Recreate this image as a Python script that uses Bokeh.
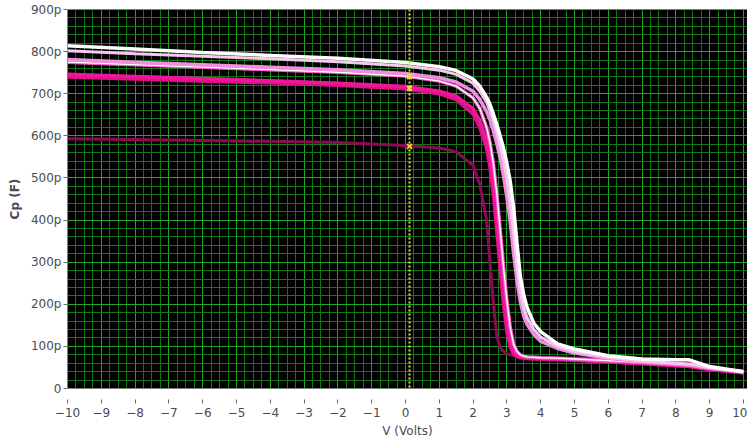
from bokeh.plotting import figure
from bokeh.models import Range1d, Span, SingleIntervalTicker
from bokeh.embed import file_html
from bokeh.resources import INLINE

# Bias voltage (V)
V = [-10, -8, -6, -4, -2, 0, 1, 1.5, 2, 2.2, 2.4, 2.5, 2.6, 2.7, 2.8, 2.9, 3,
     3.1, 3.2, 3.3, 3.4, 3.5, 3.6, 3.8, 4, 4.5, 5, 6, 7, 8, 8.4, 9, 10]

# Capacitance curves (pF)
W1 = [814, 806, 798, 791, 784, 774, 764, 755, 735, 718, 692, 675, 652, 628, 600, 572, 535,
      492, 430, 345, 265, 222, 192, 155, 135, 106, 94, 78, 70, 68, 68, 52, 40]
W2 = [802, 795, 789, 783, 776, 766, 756, 746, 725, 706, 680, 660, 636, 608, 576, 540, 498,
      440, 370, 290, 230, 192, 168, 140, 122, 100, 88, 74, 65, 60, 58, 50, 40]
P1 = [781, 775, 769, 763, 757, 748, 738, 728, 706, 686, 658, 638, 612, 582, 548, 505, 455,
      395, 320, 255, 205, 172, 152, 128, 112, 95, 84, 72, 64, 58, 56, 48, 40]
P2 = [775, 769, 763, 757, 751, 742, 730, 718, 690, 665, 620, 585, 535, 465, 380, 290, 210,
      145, 105, 88, 80, 77, 75, 74, 73, 72, 70, 66, 62, 57, 55, 48, 40]
H1 = [746, 741, 736, 731, 725, 717, 706, 694, 664, 636, 590, 550, 490, 410, 320, 235, 160,
      112, 90, 80, 76, 74, 73, 72, 71, 70, 68, 64, 60, 55, 53, 46, 38]
H2 = [740, 735, 730, 726, 720, 712, 700, 686, 652, 620, 570, 525, 460, 375, 285, 200, 135,
      98, 82, 76, 73, 72, 71, 70, 70, 69, 67, 63, 59, 54, 52, 45, 37]
D = [593, 591, 589, 587, 584, 577, 571, 562, 530, 484, 400, 300, 205, 125, 98, 88, 83,
     80, 78, 77, 76, 75, 75, 74, 74, 73, 72, 70, 68, 66, 64, 50, 42]

y_ticks = [0, 100, 200, 300, 400, 500, 600, 700, 800, 900]
y_tick_labels = ["0", "100p", "200p", "300p", "400p", "500p", "600p", "700p", "800p", "900p"]

cursor_v = 0.12
cursor_c = [741, 713, 575]

FONT = "DejaVu Sans"
TXT = "#4a4a55"

p = figure(width=747, height=443, x_range=Range1d(-10, 10.12), y_range=Range1d(0, 900),
           output_backend="svg", toolbar_location=None,
           min_border_left=67, min_border_right=0, min_border_top=9, min_border_bottom=55)
p.background_fill_color = "black"
p.border_fill_color = "white"
p.outline_line_color = None

p.xaxis.ticker = SingleIntervalTicker(interval=1, num_minor_ticks=4)
p.yaxis.ticker = SingleIntervalTicker(interval=100, num_minor_ticks=5)
p.yaxis.major_label_overrides = {t: l for t, l in zip(y_ticks, y_tick_labels)}

for g in (p.xgrid, p.ygrid):
    g.grid_line_color = "#24a424"
    g.grid_line_width = 1
    g.minor_grid_line_color = "#137813"
    g.minor_grid_line_width = 1

for ax in (p.xaxis, p.yaxis):
    ax.axis_line_color = None
    ax.minor_tick_line_color = None
    ax.major_tick_line_color = "#666666"
    ax.major_label_text_font = FONT
    ax.major_label_text_font_size = "12px"
    ax.major_label_text_color = TXT
    ax.axis_label_text_font = FONT
    ax.axis_label_text_font_size = "12px"
    ax.axis_label_text_color = TXT
    ax.axis_label_text_font_style = "normal"

p.xaxis.major_tick_in = -11
p.xaxis.major_tick_out = 15
p.xaxis.major_label_standoff = 4
p.xaxis.axis_label = "V (Volts)"
p.xaxis.axis_label_standoff = 4

p.yaxis.major_tick_in = 0
p.yaxis.major_tick_out = 4
p.yaxis.major_label_standoff = 2
p.yaxis.axis_label = "Cp (F)"
p.yaxis.axis_label_standoff = 6
p.yaxis.axis_label_text_font_style = "bold"

# curves
p.line(V, D, line_color="#8c0a55", line_width=3)
p.line(V, H2, line_color="#e0108c", line_width=3.5)
p.line(V, H1, line_color="#f0169a", line_width=3.5)
p.line(V, P2, line_color="#f25fc8", line_width=3.5)
p.line(V, P2, line_color="#ffffff", line_width=1.3)
p.line(V, P1, line_color="#f08ee0", line_width=3.5)
p.line(V, W2, line_color="#f7c8f0", line_width=3)
p.line(V, W1, line_color="#ffffff", line_width=3.5)

# cursor
p.add_layout(Span(location=cursor_v, dimension="height", line_color="#e4e83a",
                  line_width=2, line_dash="2 2"))
p.scatter([cursor_v] * len(cursor_c), cursor_c, marker="x", size=7,
          line_color="#f2d040", line_width=2)

open("out.html", "w").write(file_html(p, INLINE))
